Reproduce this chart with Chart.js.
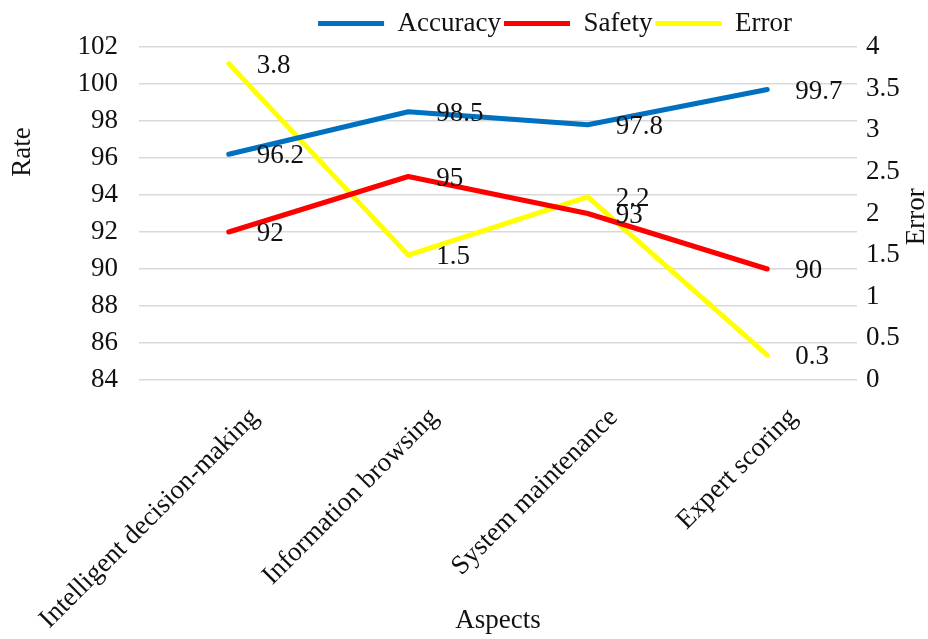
<!DOCTYPE html>
<html><head><meta charset="utf-8">
<script src="https://cdn.jsdelivr.net/npm/chart.js@4/dist/chart.umd.min.js"></script>
<style>html,body{margin:0;padding:0;background:#fff}#wrap{width:928px;height:639px}</style>
</head><body><div id="wrap"><canvas id="c" width="928" height="639"></canvas></div>
<script>
// ---- data ----
const categories = ['Intelligent decision-making', 'Information browsing', 'System maintenance', 'Expert scoring'];
const accuracy = [96.2, 98.5, 97.8, 99.7];
const safety = [92, 95, 93, 90];
const errorValues = [3.8, 1.5, 2.2, 0.3];
const rateTicks = [84, 86, 88, 90, 92, 94, 96, 98, 100, 102];
const errorTicks = [0, 0.5, 1, 1.5, 2, 2.5, 3, 3.5, 4];
const seriesNames = ['Accuracy', 'Safety', 'Error'];
const axisTitles = {x: 'Aspects', y: 'Rate', y1: 'Error'};

// ---- style ----
const FONT = "'Liberation Serif', 'Times New Roman', serif";
const FS = 27;
const TXT = '#111';
const colors = ['#0070C0', '#FF0000', '#FFFF00'];

const dataLabels = {
  id: 'dataLabels',
  afterDatasetsDraw(chart) {
    const ctx = chart.ctx;
    ctx.save();
    ctx.font = FS + 'px ' + FONT;
    ctx.fillStyle = TXT;
    ctx.textAlign = 'left';
    ctx.textBaseline = 'middle';
    chart.data.datasets.forEach((ds, i) => {
      chart.getDatasetMeta(i).data.forEach((pt, j) => {
        ctx.fillText(String(ds.data[j]), pt.x + 28, pt.y + 2);
      });
    });
    ctx.restore();
  }
};

const sideTitles = {
  id: 'sideTitles',
  afterDraw(chart) {
    const ctx = chart.ctx;
    const a = chart.chartArea;
    ctx.save();
    ctx.font = FS + 'px ' + FONT;
    ctx.fillStyle = TXT;
    ctx.textAlign = 'center';
    ctx.textBaseline = 'middle';
    ctx.translate(23, a.top + (a.bottom - a.top) * 0.315);
    ctx.rotate(-Math.PI / 2);
    ctx.fillText(axisTitles.y, 0, 0);
    ctx.restore();
    ctx.save();
    ctx.font = FS + 'px ' + FONT;
    ctx.fillStyle = TXT;
    ctx.textAlign = 'center';
    ctx.textBaseline = 'middle';
    ctx.translate(917, a.top + (a.bottom - a.top) * 0.51);
    ctx.rotate(-Math.PI / 2);
    ctx.fillText(axisTitles.y1, 0, 0);
    ctx.restore();
  }
};

const legendShift = {
  id: 'legendShift',
  afterLayout(chart) {
    if (chart.legend) { chart.legend.left += 91; chart.legend.right += 91; }
  }
};

new Chart(document.getElementById('c'), {
  type: 'line',
  data: {
    labels: categories,
    datasets: [
      {label: seriesNames[0], data: accuracy, yAxisID: 'y'},
      {label: seriesNames[1], data: safety, yAxisID: 'y'},
      {label: seriesNames[2], data: errorValues, yAxisID: 'y1'}
    ].map((d, i) => Object.assign(d, {
      borderColor: colors[i], backgroundColor: colors[i], borderWidth: 5,
      pointRadius: 0, pointHoverRadius: 0, tension: 0,
      borderCapStyle: 'round', borderJoinStyle: 'round'
    }))
  },
  options: {
    responsive: false,
    animation: false,
    layout: {padding: {top: 7, left: 0, right: 0, bottom: 0}},
    plugins: {
      legend: {
        position: 'top',
        labels: {
          font: {family: FONT, size: FS}, color: TXT,
          usePointStyle: true, pointStyle: 'line', pointStyleWidth: 66,
          boxHeight: 5, padding: 3
        }
      },
      tooltip: {enabled: false}
    },
    scales: {
      x: {
        offset: true,
        grid: {display: false},
        border: {display: false},
        ticks: {font: {family: FONT, size: FS}, color: TXT, minRotation: 45, maxRotation: 45, labelOffset: 26, padding: 14},
        title: {display: true, text: axisTitles.x, font: {family: FONT, size: FS}, color: TXT, padding: {top: 0, bottom: 2}},
        afterFit(s) { s.height = 259; s.paddingLeft = 0; s.paddingRight = 0; }
      },
      y: {
        position: 'left',
        min: rateTicks[0], max: rateTicks[rateTicks.length - 1],
        afterBuildTicks(s) { s.ticks = rateTicks.map(v => ({value: v})); },
        grid: {color: '#d9d9d9', lineWidth: 1.5, drawTicks: false},
        border: {display: false},
        ticks: {font: {family: FONT, size: FS}, color: TXT, padding: 21},
        afterFit(s) { s.width = 139; s.paddingTop = 0; s.paddingBottom = 0; }
      },
      y1: {
        position: 'right',
        min: errorTicks[0], max: errorTicks[errorTicks.length - 1],
        afterBuildTicks(s) { s.ticks = errorTicks.map(v => ({value: v})); },
        grid: {display: false, drawTicks: false},
        border: {display: false},
        ticks: {font: {family: FONT, size: FS}, color: TXT, padding: 9, callback: v => String(v)},
        afterFit(s) { s.width = 71; }
      }
    }
  },
  plugins: [dataLabels, sideTitles, legendShift]
});
</script>
</body></html>
